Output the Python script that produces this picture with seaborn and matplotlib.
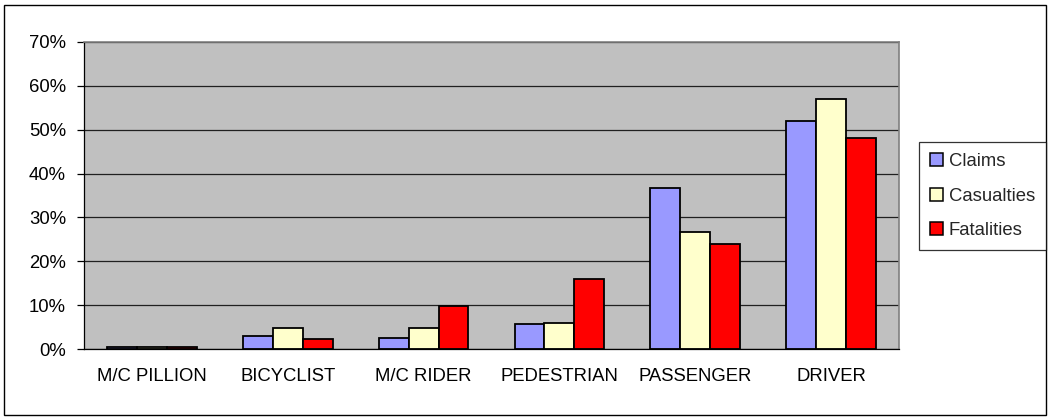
import matplotlib
matplotlib.use("Agg")
import matplotlib.pyplot as plt
from matplotlib.patches import Rectangle
from matplotlib.ticker import PercentFormatter, FixedLocator
import seaborn as sns
import pandas as pd

# Share of each road-user type, by measure
categories = ["M/C PILLION", "BICYCLIST", "M/C RIDER", "PEDESTRIAN", "PASSENGER", "DRIVER"]
claims = [0.004, 0.030, 0.026, 0.056, 0.366, 0.520]
casualties = [0.004, 0.047, 0.047, 0.060, 0.266, 0.571]
fatalities = [0.004, 0.022, 0.099, 0.159, 0.240, 0.481]
series_names = ["Claims", "Casualties", "Fatalities"]
series_colors = ["#9999FF", "#FFFFCC", "#FF0000"]

df = pd.DataFrame({
    "category": categories * 3,
    "measure": [s for s in series_names for _ in categories],
    "share": claims + casualties + fatalities,
})

FS = 13.3

sns.set_theme(style="white")
plt.rcParams["font.family"] = ["Liberation Sans", "DejaVu Sans"]
plt.rcParams["font.size"] = FS

fig = plt.figure(figsize=(10.51, 4.19), dpi=100)
ax = fig.add_axes([84 / 1051, 1 - 349 / 419, (899 - 84) / 1051, (349 - 42) / 419])
ax.set_facecolor("#C0C0C0")

sns.barplot(
    data=df, x="category", y="share", hue="measure",
    order=categories, hue_order=series_names,
    palette=dict(zip(series_names, series_colors)),
    width=0.66, edgecolor="black", linewidth=1.3,
    saturation=1, ax=ax, legend=False,
)

ax.set_ylim(0, 0.70)
ax.set_xlim(-0.5, len(categories) - 0.5)
ax.yaxis.set_major_locator(FixedLocator([i / 10 for i in range(8)]))
ax.yaxis.set_major_formatter(PercentFormatter(xmax=1, decimals=0))
ax.grid(axis="y", color="#202020", linewidth=0.9)
ax.set_axisbelow(True)
ax.set_xlabel("")
ax.set_ylabel("")

# category ticks sit between the groups
ax.set_xticks([i - 0.5 for i in range(len(categories) + 1)], minor=True)
ax.tick_params(axis="x", which="minor", length=5, width=0.9, color="black", direction="out")
ax.tick_params(axis="x", which="major", length=0, pad=14, labelsize=FS, colors="black")
ax.tick_params(axis="y", which="major", length=5, width=0.9, color="black",
               direction="out", pad=8, labelsize=FS, colors="black", left=True)

for side in ("top", "right"):
    ax.spines[side].set_color("#808080")
    ax.spines[side].set_linewidth(1.2)
ax.spines["left"].set_color("black")
ax.spines["left"].set_linewidth(0.9)
ax.spines["bottom"].set_color("black")
ax.spines["bottom"].set_linewidth(0.9)

handles = [Rectangle((0, 0), 1, 1, facecolor=c, edgecolor="black", linewidth=1.1)
           for c in series_colors]
leg = fig.legend(
    handles, series_names, loc="upper left",
    bbox_to_anchor=(919 / 1051, 1 - 142 / 419), bbox_transform=fig.transFigure,
    borderaxespad=0, fancybox=False, frameon=True, edgecolor="black",
    handlelength=0.7, handleheight=0.7, handletextpad=0.3,
    labelspacing=0.95, borderpad=0.6, fontsize=FS,
)
leg.get_frame().set_linewidth(0.9)

# outer chart border
fig.patches.append(Rectangle((4 / 1051, 4 / 419), 1 - 9 / 1051, 1 - 9 / 419,
                             transform=fig.transFigure, fill=False,
                             edgecolor="black", linewidth=1.0))

fig.savefig("out.png", dpi=100, facecolor="white")
